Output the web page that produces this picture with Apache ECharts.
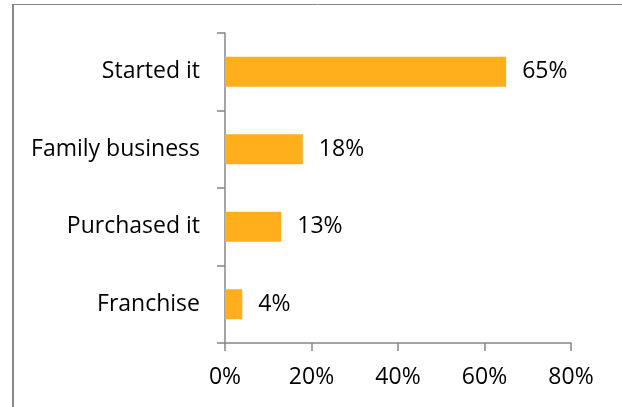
<!DOCTYPE html>
<html>
<head>
<meta charset="utf-8">
<script src="https://cdn.jsdelivr.net/npm/echarts@6/dist/echarts.min.js"></script>
<style>
  html, body { margin: 0; padding: 0; background: #fff; }
  #chart { width: 622px; height: 407px; }
</style>
</head>
<body>
<div id="chart"></div>
<script>
// How the business was acquired (share of respondents, %)
const categories = ['Started it', 'Family business', 'Purchased it', 'Franchise'];
const shares = [65, 18, 13, 4];
const xTicks = [0, 20, 40, 60, 80];

const FONT = '"Open Sans", sans-serif';
const AXIS_GRAY = '#878787';

const chart = echarts.init(document.getElementById('chart'), null, { renderer: 'canvas' });

chart.setOption({
  animation: false,
  backgroundColor: '#fff',
  textStyle: { fontFamily: FONT },
  graphic: [
    // chart frame (left and top edges)
    { type: 'line', shape: { x1: 13, y1: 4, x2: 13, y2: 420 }, style: { stroke: AXIS_GRAY, lineWidth: 2 } },
    { type: 'line', shape: { x1: 12, y1: 4.5, x2: 640, y2: 4.5 }, style: { stroke: AXIS_GRAY, lineWidth: 1 } }
  ],
  grid: { left: 225, right: 51, top: 33, bottom: 64, containLabel: false },
  xAxis: {
    type: 'value',
    min: xTicks[0],
    max: xTicks[xTicks.length - 1],
    interval: 20,
    axisLine: { show: true, lineStyle: { color: AXIS_GRAY, width: 1.5 } },
    axisTick: { show: true, length: 8, lineStyle: { color: AXIS_GRAY, width: 1.5 } },
    splitLine: { show: false },
    axisLabel: {
      margin: 23,
      fontFamily: FONT,
      fontSize: 23,
      color: '#000',
      formatter: v => v + '%'
    }
  },
  yAxis: {
    type: 'category',
    data: categories,
    inverse: true,
    axisLine: { show: true, lineStyle: { color: AXIS_GRAY, width: 1.5 } },
    axisTick: { show: true, length: 8, lineStyle: { color: AXIS_GRAY, width: 1.5 } },
    axisLabel: {
      margin: 25,
      fontFamily: FONT,
      fontSize: 23,
      color: '#000'
    }
  },
  series: [{
    type: 'bar',
    data: shares,
    barWidth: 30,
    itemStyle: { color: '#FEAF1B' },
    label: {
      show: true,
      position: 'right',
      distance: 16,
      fontFamily: FONT,
      fontSize: 23,
      color: '#000',
      formatter: p => p.value + '%'
    }
  }]
});
</script>
</body>
</html>
